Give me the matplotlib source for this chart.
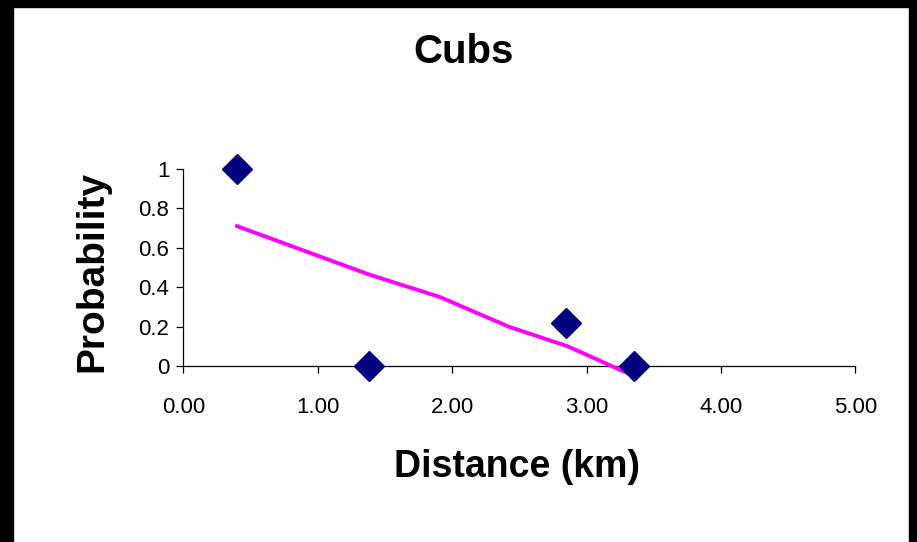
import matplotlib
matplotlib.use("Agg")
import matplotlib.pyplot as plt
from matplotlib.patches import Rectangle

plt.rcParams['font.family'] = ['Liberation Sans', 'DejaVu Sans']

# observed probabilities by distance
distance = [0.40, 1.38, 2.85, 3.35]
probability = [1.0, 0.0, 0.22, 0.0]

# fitted trend
fit_distance = [0.40, 1.38, 1.91, 2.42, 2.86, 3.35]
fit_probability = [0.71, 0.465, 0.35, 0.20, 0.10, -0.05]

x_ticks = [0, 1, 2, 3, 4, 5]
x_labels = ["0.00", "1.00", "2.00", "3.00", "4.00", "5.00"]
y_ticks = [0, 0.2, 0.4, 0.6, 0.8, 1.0]
y_labels = ["0", "0.2", "0.4", "0.6", "0.8", "1"]

fig = plt.figure(figsize=(9.17, 5.42), dpi=100)
fig.patch.set_facecolor("white")

# black frame round the chart area
W, H = 917.0, 542.0
fig.patches.append(Rectangle((0, 1 - 7 / H), 1, 7 / H, transform=fig.transFigure,
                             color="black", zorder=0))
fig.patches.append(Rectangle((0, 0), 13 / W, 1, transform=fig.transFigure,
                             color="black", zorder=0))
fig.patches.append(Rectangle((1 - 8 / W, 0), 8 / W, 1, transform=fig.transFigure,
                             color="black", zorder=0))

ax = fig.add_axes([183.3 / W, 1 - 366 / H, (855.3 - 183.3) / W, (366 - 169) / H])
ax.set_facecolor("white")

ax.plot(fit_distance, fit_probability, color="#FF00FF", lw=2.8,
        clip_on=False, zorder=3)
ax.plot(distance, probability, linestyle="none", marker="D", ms=15,
        color="#000080", markeredgecolor="#000080", clip_on=False, zorder=4)

ax.set_xlim(0, 5)
ax.set_ylim(0, 1)
ax.set_xticks(x_ticks)
ax.set_xticklabels(x_labels)
ax.set_yticks(y_ticks)
ax.set_yticklabels(y_labels)

for side in ("top", "right"):
    ax.spines[side].set_visible(False)
for side in ("left", "bottom"):
    ax.spines[side].set_linewidth(0.9)
    ax.spines[side].set_color("black")

ax.tick_params(axis="x", direction="out", length=5, width=0.9,
               labelsize=16, pad=17)
ax.tick_params(axis="y", direction="out", length=5, width=0.9,
               labelsize=16, pad=5)

fig.text(464 / W, 1 - 52 / H, "Cubs", ha="center", va="center",
         fontsize=29, fontweight="bold")
fig.text(517 / W, 1 - 467 / H, "Distance (km)", ha="center", va="center",
         fontsize=27, fontweight="bold")
fig.text(92 / W, 1 - 271 / H, "Probability", ha="center", va="center",
         rotation=90, fontsize=28, fontweight="bold")

fig.savefig("out.png", dpi=100)
